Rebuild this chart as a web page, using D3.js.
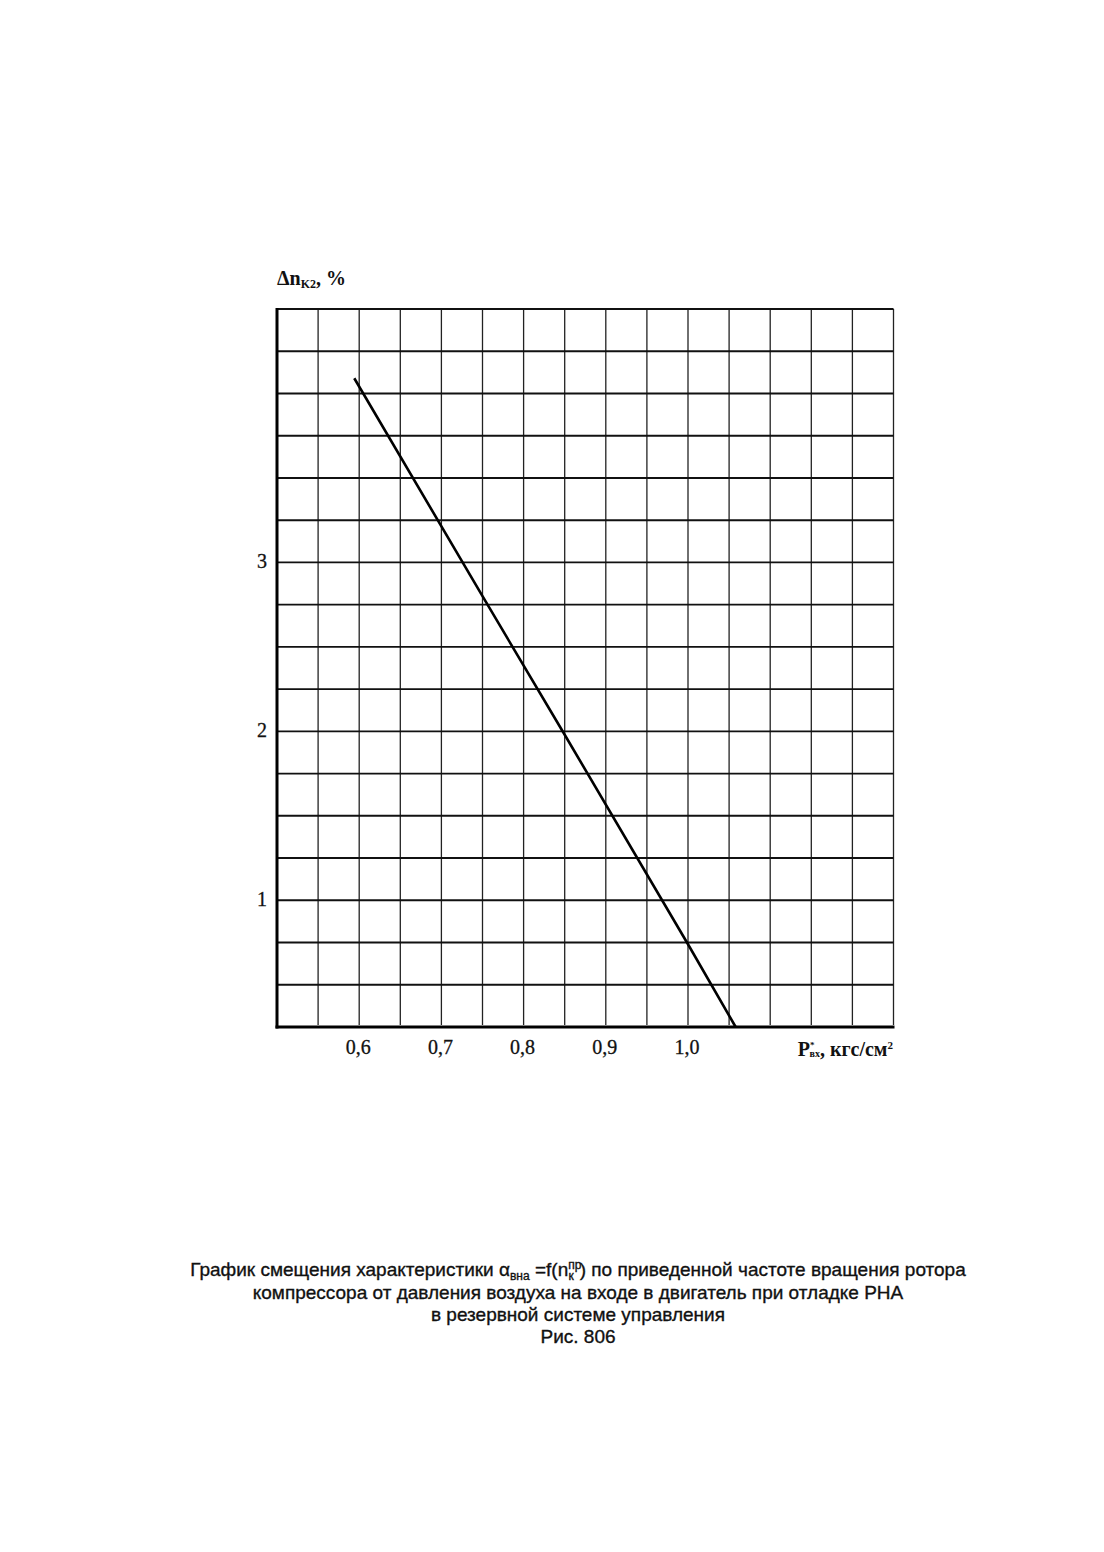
<!DOCTYPE html>
<html><head><meta charset="utf-8">
<script src="https://cdn.jsdelivr.net/npm/d3@7"></script>
<style>
html,body{margin:0;padding:0;background:#fff;}
svg{display:block;}
</style></head>
<body>
<script>
// Data
const xTicks = [0.6, 0.7, 0.8, 0.9, 1.0];
const yTicks = [1, 2, 3];
const xGrid = d3.range(0.5, 1.2501, 0.05);
const yGrid = d3.range(0.25, 4.5001, 0.25);
const lineX = [0.594, 0.75, 0.85, 1.0, 1.058];
const lineY = [4.09, 2.80, 1.98, 0.74, 0.25];
const captionLines = [
  "компрессора от давления воздуха на входе в двигатель при отладке РНА",
  "в резервной системе управления",
  "Рис. 806"
];

const W = 1104, H = 1552;
const svg = d3.select("body").append("svg").attr("width", W).attr("height", H);

const x = d3.scaleLinear().domain([0.5, 1.25]).range([277, 893.5]);
const y = d3.scaleLinear().domain([0.25, 4.5]).range([1027, 309]);

const grid = svg.append("g");
grid.selectAll("line.v").data(xGrid.slice(1)).join("line")
  .attr("x1", d => x(d)).attr("x2", d => x(d))
  .attr("y1", y(4.5)).attr("y2", y(0.25) - 2)
  .attr("stroke", "#222").attr("stroke-width", 1.3);
grid.selectAll("line.h").data(yGrid.slice(1)).join("line")
  .attr("x1", x(0.5)).attr("x2", x(1.25))
  .attr("y1", d => y(d)).attr("y2", d => y(d))
  .attr("stroke", "#111").attr("stroke-width", 1.9);

// axes (thicker left and bottom)
svg.append("line").attr("x1", x(0.5)).attr("x2", x(0.5)).attr("y1", y(4.5) - 1).attr("y2", y(0.25) + 1.5)
  .attr("stroke", "#000").attr("stroke-width", 3);
svg.append("line").attr("x1", x(0.5) - 1.5).attr("x2", x(1.25) + 1).attr("y1", y(0.25)).attr("y2", y(0.25))
  .attr("stroke", "#000").attr("stroke-width", 3.2);

// curve
const pts = lineX.map((v, i) => [v, lineY[i]]);
svg.append("path").datum(pts)
  .attr("d", d3.line().x(d => x(d[0])).y(d => y(d[1])))
  .attr("fill", "none").attr("stroke", "#000").attr("stroke-width", 2.6);

const serif = "'Liberation Serif','DejaVu Serif',serif";
// x tick labels
svg.selectAll("text.xt").data(xTicks).join("text")
  .attr("x", d => x(d) - 1).attr("y", 1054)
  .attr("text-anchor", "middle")
  .attr("font-family", serif).attr("font-size", 20)
  .attr("fill", "#111").attr("stroke", "#111").attr("stroke-width", 0.3)
  .text(d => d3.format(".1f")(d).replace(".", ","));
// y tick labels
svg.selectAll("text.yt").data(yTicks).join("text")
  .attr("x", 267).attr("y", d => y(d) + 6)
  .attr("text-anchor", "end")
  .attr("font-family", serif).attr("font-size", 20)
  .attr("fill", "#111").attr("stroke", "#111").attr("stroke-width", 0.3)
  .text(d => d);

// x axis title
const xt = svg.append("text").attr("x", 893).attr("y", 1056).attr("text-anchor", "end")
  .attr("font-family", serif).attr("font-size", 20).attr("font-weight", "bold").attr("fill", "#111");
xt.append("tspan").text("P");
xt.append("tspan").attr("font-size", 9).attr("dy", -8).text("*");
xt.append("tspan").attr("font-size", 10).attr("dx", -5).attr("dy", 9).text("вх");
xt.append("tspan").attr("dy", -1).text(", кгс/см");
xt.append("tspan").attr("font-size", 11).attr("dy", -7).text("2");

// y axis title
const yt = svg.append("text").attr("x", 277).attr("y", 285)
  .attr("font-family", serif).attr("font-size", 20).attr("font-weight", "bold").attr("fill", "#111");
yt.append("tspan").text("Δn");
yt.append("tspan").attr("font-size", 12).attr("dy", 3).text("K2");
yt.append("tspan").attr("dy", -3).text(", %");

// caption
const sans = "'Liberation Sans Narrow','Liberation Sans',Arial,sans-serif";
const cx = 578;
const c1 = svg.append("text").attr("x", cx).attr("y", 1276).attr("text-anchor", "middle")
  .attr("font-family", sans).attr("font-size", 19).attr("fill", "#111")
  .attr("stroke", "#111").attr("stroke-width", 0.35);
c1.append("tspan").text("График смещения характеристики α");
c1.append("tspan").attr("font-size", 12).attr("dy", 4).text("вна");
c1.append("tspan").attr("dy", -4).text(" =f(n");
c1.append("tspan").attr("font-size", 12).attr("dy", -7).text("пр");
c1.append("tspan").attr("font-size", 12).attr("dx", -13).attr("dy", 11).text("к");
c1.append("tspan").attr("dx", 6).attr("dy", -4).text(") по приведенной частоте вращения ротора");

svg.selectAll("text.cap").data(captionLines).join("text")
  .attr("x", cx).attr("y", (d, i) => 1299 + i * 22).attr("text-anchor", "middle")
  .attr("font-family", sans).attr("font-size", 19).attr("fill", "#111")
  .attr("stroke", "#111").attr("stroke-width", 0.35)
  .text(d => d);
</script>
</body></html>
